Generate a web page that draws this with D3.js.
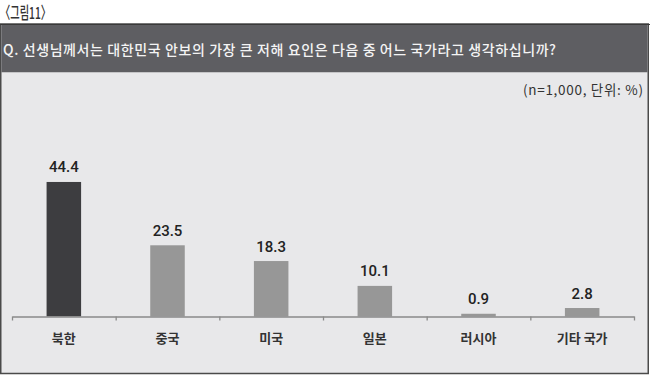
<!DOCTYPE html>
<html>
<head>
<meta charset="utf-8">
<script src="https://cdn.jsdelivr.net/npm/d3@7"></script>
<style>
  html, body { margin: 0; padding: 0; background: #ffffff; }
  svg { display: block; }
</style>
</head>
<body>
<svg id="chart" width="650" height="375"></svg>
<script>
const figureLabel = "〈그림11〉";
const question = "Q. 선생님께서는 대한민국 안보의 가장 큰 저해 요인은 다음 중 어느 국가라고 생각하십니까?";
const note = "(n=1,000, 단위: %)";
const categories = ["북한", "중국", "미국", "일본", "러시아", "기타 국가"];
const values = [44.4, 23.5, 18.3, 10.1, 0.9, 2.8];
const valueLabels = ["44.4", "23.5", "18.3", "10.1", "0.9", "2.8"];

const svg = d3.select("#chart");
const KR = "'Noto Sans CJK KR', 'Noto Sans', sans-serif";

// figure label
svg.append("text")
  .attr("x", 0).attr("y", 19)
  .attr("font-family", KR).attr("font-size", 16.5).attr("font-weight", 500)
  .attr("fill", "#333")
  .attr("textLength", 51).attr("lengthAdjust", "spacingAndGlyphs")
  .text(figureLabel);

// chart box background
svg.append("rect")
  .attr("x", 0.75).attr("y", 24).attr("width", 647.5).attr("height", 349.5)
  .attr("fill", "#e8e8ea").attr("stroke", "#4a4a4a").attr("stroke-width", 1.5);

// header
svg.append("rect")
  .attr("x", 1.5).attr("y", 24.75).attr("width", 646).attr("height", 47.5)
  .attr("fill", "#5e5e62");
svg.append("line")
  .attr("x1", 0).attr("x2", 650).attr("y1", 24.5).attr("y2", 24.5)
  .attr("stroke", "#3a3a3a").attr("stroke-width", 1.2);

svg.append("text")
  .attr("x", 3).attr("y", 54.5)
  .attr("font-family", KR).attr("font-size", 14).attr("font-weight", 500)
  .attr("fill", "#f4f4f4")
  .attr("textLength", 553).attr("lengthAdjust", "spacing")
  .text(question);

svg.append("text")
  .attr("x", 643).attr("y", 95)
  .attr("text-anchor", "end")
  .attr("font-family", KR).attr("font-size", 13.5).attr("font-weight", 400)
  .attr("fill", "#333")
  .attr("textLength", 120).attr("lengthAdjust", "spacing")
  .text(note);

// scales
const x = d3.scaleBand().domain(categories).range([12, 634])
  .paddingInner(0.667).paddingOuter(0.3335);
const y = d3.scaleLinear().domain([0, 50]).range([316.5, 165]);
const xTicks = d3.scaleLinear().domain([0, categories.length]).range([12, 634]);

// bars
svg.append("g").selectAll("rect")
  .data(categories)
  .join("rect")
  .attr("x", d => x(d))
  .attr("width", x.bandwidth())
  .attr("y", (d, i) => y(values[i]))
  .attr("height", (d, i) => y(0) - y(values[i]))
  .attr("fill", (d, i) => i === 0 ? "#3d3d40" : "#979797");

// axis with boundary ticks
const axis = svg.append("g")
  .attr("transform", `translate(0,${y(0)})`)
  .call(d3.axisBottom(xTicks).ticks(categories.length).tickSize(4).tickSizeOuter(0).tickFormat(""));
axis.select(".domain").attr("stroke", "#8a8a8a").attr("stroke-width", 1.3);
axis.selectAll(".tick line").attr("stroke", "#8a8a8a").attr("stroke-width", 1.3);

// value labels
svg.append("g").selectAll("text")
  .data(categories)
  .join("text")
  .attr("x", d => x(d) + x.bandwidth() / 2)
  .attr("y", (d, i) => y(values[i]) - 9.5)
  .attr("text-anchor", "middle")
  .attr("font-family", "Roboto, sans-serif").attr("font-size", 15).attr("font-weight", 500)
  .attr("fill", "#222")
  .text((d, i) => valueLabels[i]);

// category labels
svg.append("g").selectAll("text")
  .data(categories)
  .join("text")
  .attr("x", d => x(d) + x.bandwidth() / 2)
  .attr("y", 342.5)
  .attr("text-anchor", "middle")
  .attr("font-family", KR).attr("font-size", 13).attr("font-weight", 700)
  .attr("fill", "#333")
  .text(d => d);
</script>
</body>
</html>
